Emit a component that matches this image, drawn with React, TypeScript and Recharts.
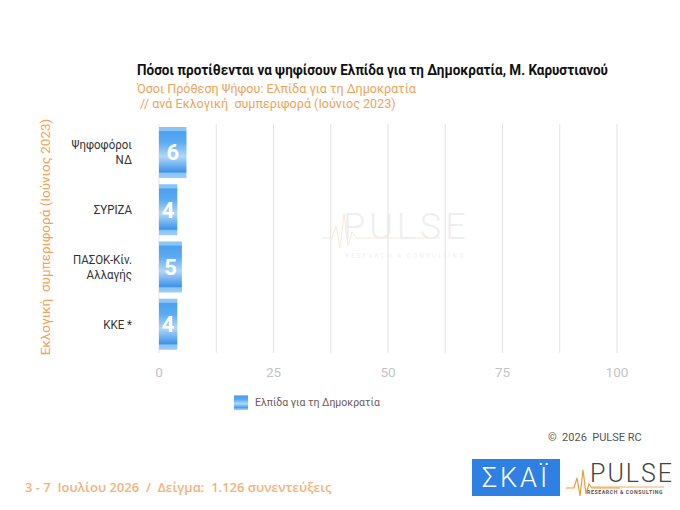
import { BarChart, Bar, XAxis, YAxis, CartesianGrid, LabelList } from "recharts";

const categories = ["Ψηφοφόροι\nΝΔ", "ΣΥΡΙΖΑ", "ΠΑΣΟΚ-Κίν.\nΑλλαγής", "ΚΚΕ *"];
const values = [6, 4, 5, 4];
const xTicks = [0, 25, 50, 75, 100];
const gridValues = [0, 12.5, 25, 37.5, 50, 62.5, 75, 87.5, 100];
const seriesName = "Ελπίδα για τη Δημοκρατία";

const data = categories.map((name, i) => ({ name, value: values[i] }));

const ORANGE = "#f0a35a";
const FONT = "Roboto, 'Noto Sans', sans-serif";

const CategoryTick = (props: any) => {
  const { y, payload } = props;
  const lines = String(payload.value).split("\n");
  const lh = 15;
  const start = y - ((lines.length - 1) * lh) / 2;
  return (
    <g transform={`translate(132 0) scale(0.92 1)`}>
      <text x={0} y={start} textAnchor="end" fill="#333" fontSize={12.5} fontFamily={FONT}>
        {lines.map((l, i) => (
          <tspan key={i} x={0} y={start + i * lh} dy="0.35em">
            {l}
          </tspan>
        ))}
      </text>
    </g>
  );
};

const BarGradient = ({ id }: { id: string }) => (
  <linearGradient id={id} x1="0" y1="0" x2="0" y2="1">
    <stop offset="0%" stopColor="#8cc4f6" />
    <stop offset="7%" stopColor="#8cc4f6" />
    <stop offset="9%" stopColor="#4ba1ef" />
    <stop offset="30%" stopColor="#5aabf1" />
    <stop offset="58%" stopColor="#b0d7fa" />
    <stop offset="88%" stopColor="#3d94ea" />
    <stop offset="91%" stopColor="#8cc4f6" />
    <stop offset="100%" stopColor="#9ccdf8" />
  </linearGradient>
);

export default function App() {
  return (
    <div
      style={{
        position: "absolute",
        left: 0,
        top: 0,
        width: 680,
        height: 510,
        background: "#fff",
        fontFamily: FONT,
        overflow: "hidden",
      }}
    >
      <div
        style={{
          position: "absolute",
          left: 137,
          top: 62,
          fontSize: 14.5,
          fontWeight: 700,
          color: "#111",
          whiteSpace: "nowrap",
          transform: "scaleX(0.93)",
          transformOrigin: "left top",
        }}
      >
        Πόσοι προτίθενται να ψηφίσουν Ελπίδα για τη Δημοκρατία, Μ. Καρυστιανού
      </div>
      <div
        style={{
          position: "absolute",
          left: 137,
          top: 81,
          fontSize: 13.5,
          color: ORANGE,
          whiteSpace: "nowrap",
          lineHeight: "15px",
          transform: "scaleX(0.93)",
          transformOrigin: "left top",
        }}
      >
        Όσοι Πρόθεση Ψήφου: Ελπίδα για τη Δημοκρατία
        <br />
        &nbsp;// ανά Εκλογική&nbsp; συμπεριφορά (Ιούνιος 2023)
      </div>

      <div
        style={{
          position: "absolute",
          left: 45,
          top: 237,
          fontSize: 13.5,
          color: ORANGE,
          whiteSpace: "nowrap",
          transform: "translate(-50%, -50%) rotate(-90deg)",
        }}
      >
        Εκλογική&nbsp; συμπεριφορά (Ιούνιος 2023)
      </div>

      <svg style={{ position: "absolute", left: 0, top: 0 }} width={680} height={510}>
        <g opacity={0.55}>
          <polyline
            points="322,238 332,238 336,226 340,248 344,214 348,246 352,232 356,238 440,238"
            fill="none"
            stroke="#f7d9b8"
            strokeWidth={1}
          />
          <text x={343} y={239} fontSize={36} fontWeight={300} fill="#e2e2e2" letterSpacing={4} fontFamily={FONT}>
            PULSE
          </text>
          <text x={345} y={258} fontSize={6.5} fill="#e6e6e6" letterSpacing={2} fontFamily={FONT}>
            RESEARCH &amp; CONSULTING
          </text>
        </g>
      </svg>

      <div style={{ position: "absolute", left: 0, top: 0 }}>
        <BarChart
          width={680}
          height={510}
          data={data}
          layout="vertical"
          margin={{ top: 124, right: 63, bottom: 127, left: 0 }}
          barSize={51}
        >
          <defs>
            <BarGradient id="barGrad" />
          </defs>
          <CartesianGrid horizontal={false} verticalValues={gridValues} stroke="#e3e3e3" />
          <XAxis
            type="number"
            domain={[0, 100]}
            ticks={xTicks}
            axisLine={false}
            tickLine={false}
            height={30}
            tick={{ fill: "#c4c4c4", fontSize: 13.5, fontFamily: FONT }}
            tickMargin={8}
          />
          <YAxis
            type="category"
            dataKey="name"
            width={159}
            axisLine={false}
            tickLine={false}
            tick={<CategoryTick />}
          />
          <Bar dataKey="value" name={seriesName} fill="url(#barGrad)" isAnimationActive={false}>
            <LabelList
              dataKey="value"
              position="center"
              fill="#fff"
              fontSize={22}
              fontWeight={700}
              fontFamily={FONT}
            />
          </Bar>
        </BarChart>
      </div>

      <svg style={{ position: "absolute", left: 0, top: 0, pointerEvents: "none" }} width={680} height={510}>
        <defs>
          <BarGradient id="legGrad" />
        </defs>
        <rect x={234} y={395} width={14} height={15} fill="url(#legGrad)" />
        <text x={255} y={406} fontSize={10.5} fill="#6b5b5b" fontFamily={FONT}>
          {seriesName}
        </text>

        <text x={548} y={441} fontSize={11} fill="#555" fontFamily={FONT}>
          ©&nbsp; 2026&nbsp; PULSE RC
        </text>

        <text x={25} y={492} fontSize={13} fontWeight={600} fill="#f5b27a" fontFamily="'Open Sans', sans-serif">
          3 - 7&nbsp; Ιουλίου 2026&nbsp; /&nbsp; Δείγμα:&nbsp; 1.126 συνεντεύξεις
        </text>

        <rect x={472} y={459} width={88} height={37} fill="#2f80e3" />
        <text x={516} y={487} fontSize={27} fill="#fff" textAnchor="middle" fontWeight={300} letterSpacing={3} fontFamily={FONT}>
          ΣΚΑΪ
        </text>

        <polyline
          points="566,488 574,488 577,478 580,496 583,470 586,494 589,484 592,488 620,488"
          fill="none"
          stroke="#f29a3a"
          strokeWidth={1.2}
        />
        <text x={590} y={482} fontSize={25} fill="#444" fontWeight={300} letterSpacing={2} fontFamily={FONT}>
          PULSE
        </text>
        <line x1={592} y1={487} x2={664} y2={487} stroke="#f29a3a" strokeWidth={0.8} />
        <text x={587} y={494} fontSize={5.2} fill="#555" fontWeight={700} letterSpacing={0.6} fontFamily={FONT}>
          RESEARCH &amp; CONSULTING
        </text>
      </svg>
    </div>
  );
}
